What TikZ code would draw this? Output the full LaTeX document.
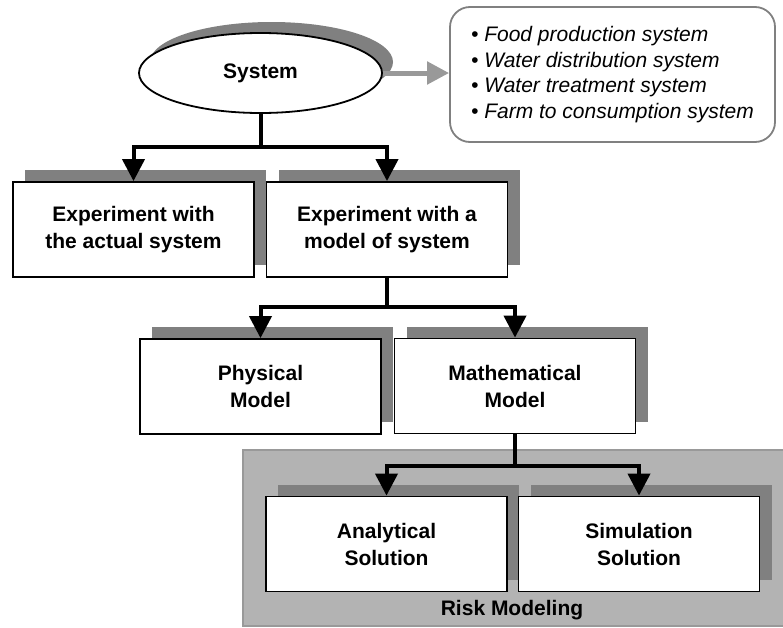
\documentclass[tikz,border=0pt]{standalone}
\usepackage{fontspec}
\setmainfont{Liberation Sans}
\usetikzlibrary{shapes.geometric,shadows,arrows.meta}

\definecolor{shadegray}{HTML}{808080}
\definecolor{riskgray}{HTML}{B3B3B3}
\definecolor{rimgray}{HTML}{999999}

\tikzset{
  modelbox/.style={draw, line width=1.8pt, fill=white, inner sep=0pt,
    minimum width=241pt, minimum height=95pt, align=center,
    font=\fontsize{21}{27}\selectfont\bfseries,
    drop shadow={shadow xshift=12pt, shadow yshift=12pt, fill=shadegray, opacity=1}},
  sysnode/.style={ellipse, draw, line width=1.8pt, fill=white, inner sep=0pt,
    minimum width=243pt, minimum height=80pt,
    font=\fontsize{21}{27}\selectfont\bfseries,
    drop shadow={shadow xshift=11pt, shadow yshift=11pt, fill=shadegray, opacity=1}},
  listnode/.style={draw=shadegray, line width=1.8pt, rounded corners=20pt,
    minimum width=325pt, minimum height=135pt, align=left,
    font=\fontsize{21}{25.5}\selectfont\itshape},
  riskarea/.style={draw=rimgray, line width=1.8pt, fill=riskgray, inner sep=0pt,
    minimum width=547pt, minimum height=176pt},
  conn/.style={line width=4pt, -{Triangle[width=22pt,length=22pt]}},
  grayconn/.style={line width=5pt, draw=rimgray, -{Triangle[width=22pt,length=22pt]}}
}

\begin{document}
\begin{tikzpicture}[x=1pt, y=-1pt]
  \useasboundingbox (0,0) rectangle (783,627);

  % risk modeling area
  \node[riskarea] (risk) at (516.5,538) {};
  \node[font=\fontsize{21}{27}\selectfont\bfseries] (risklabel) at (512,610) {Risk Modeling};

  % nodes
  \node[sysnode] (sys) at (260.5,73) {System};
  \node[listnode] (list) at (612.5,74.5) {%
    • Food production system\\
    • Water distribution system\\
    • Water treatment system\\
    • Farm to consumption system};

  \node[modelbox] (exp1) at (133.5,229.5) {Experiment with\\the actual system};
  \node[modelbox] (exp2) at (387,229.5) {Experiment with a\\model of system};
  \node[modelbox] (phys) at (260.5,386.5) {Physical\\Model};
  \node[modelbox] (math) at (515,386) {Mathematical\\Model};
  \node[modelbox] (anal) at (386.5,544) {Analytical\\Solution};
  \node[modelbox] (simu) at (639,544) {Simulation\\Solution};

  % junctions
  \coordinate (j1) at (260.5,147);
  \coordinate (j2) at (387,307);
  \coordinate (j3) at (515,466);

  % connectors
  \draw[grayconn] (sys.east) -- (sys.east -| list.west);
  \draw[line width=4pt] (sys.south) -- (j1);
  \draw[conn] (j1) -| (exp1.north);
  \draw[conn] (j1) -| (exp2.north);
  \draw[line width=4pt] (exp2.south) -- (j2);
  \draw[conn] (j2) -| (phys.north);
  \draw[conn] (j2) -| (math.north);
  \draw[line width=4pt] (math.south) -- (j3);
  \draw[conn] (j3) -| (anal.north);
  \draw[conn] (j3) -| (simu.north);
\end{tikzpicture}
\end{document}
